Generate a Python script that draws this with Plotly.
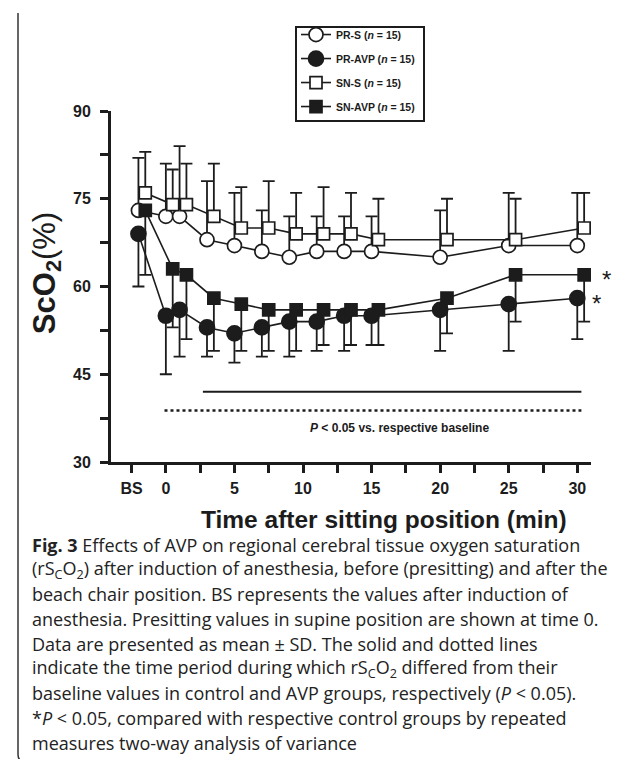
import plotly.graph_objects as go

# ---------------- data ----------------
TIME_LABELS = ["BS", "0", "1", "3", "5", "7", "9", "11", "13", "15", "20", "25", "30"]
TIMES = [-2, 0, 1, 3, 5, 7, 9, 11, 13, 15, 20, 25, 30]   # BS drawn just left of time 0

PR_S_MEAN = [73, 72, 72, 68, 67, 66, 65, 66, 66, 66, 65, 67, 67]
PR_S_SD = [9, 9, 12, 10, 9, 7, 7, 6, 6, 6, 8, 9, 9]
PR_AVP_MEAN = [69, 55, 56, 53, 52, 53, 54, 54, 55, 55, 56, 57, 58]
PR_AVP_SD = [9, 10, 8, 5, 5, 5, 6, 5, 6, 5, 7, 8, 7]
SN_S_MEAN = [76, 74, 74, 72, 70, 70, 69, 69, 69, 68, 68, 68, 70]
SN_S_SD = [7, 6, 7, 9, 7, 8, 7, 8, 7, 7, 7, 7, 6]
SN_AVP_MEAN = [73, 63, 62, 58, 57, 56, 56, 56, 56, 56, 58, 62, 62]
SN_AVP_SD = [11, 10, 11, 9, 8, 7, 7, 6, 6, 6, 6, 8, 8]

CONTROL_PERIOD = [3, 30]   # solid line
AVP_PERIOD = [0, 30]       # dotted line

X_TICKS = [-2.5, 0, 2.5, 5, 7.5, 10, 12.5, 15, 17.5, 20, 22.5, 25, 27.5, 30]
X_TICKTEXT = ["BS", "0", "", "5", "", "10", "", "15", "", "20", "", "25", "", "30"]
Y_TICKS = [30, 37.5, 45, 52.5, 60, 67.5, 75, 82.5, 90]
Y_TICKTEXT = ["30", "", "45", "", "60", "", "75", "", "90"]

CAPTION = [
    "<b>Fig. 3</b> Effects of AVP on regional cerebral tissue oxygen saturation",
    "(rS<sub>C</sub>O<sub>2</sub>) after induction of anesthesia, before (presitting) and after the",
    "beach chair position. BS represents the values after induction of",
    "anesthesia. Presitting values in supine position are shown at time 0.",
    "Data are presented as mean \u00b1 SD. The solid and dotted lines",
    "indicate the time period during which rS<sub>C</sub>O<sub>2</sub> differed from their",
    "baseline values in control and AVP groups, respectively (<i>P</i> &lt; 0.05).",
    "*<i>P</i> &lt; 0.05, compared with respective control groups by repeated",
    "measures two-way analysis of variance",
]

# ---------------- layout geometry ----------------
W, H = 635, 759
L, R, T, B = 103, 52, 99, 305
PW, PH = W - L - R, H - T - B
X_RANGE = [-4, 31]
Y_RANGE = [30, 90]
INK = "#1c1c1c"
AX_FONT = "Liberation Sans, Arial, sans-serif"


def px(x):
    return (x - L) / PW


def py(y):
    return (H - B - y) / PH


def data_to_paper_x(v):
    return (v - X_RANGE[0]) / (X_RANGE[1] - X_RANGE[0])


def data_to_paper_y(v):
    return (v - Y_RANGE[0]) / (Y_RANGE[1] - Y_RANGE[0])


SN_OFFSET = 0.5

fig = go.Figure()


def add_series(name, mean, sd, offset, symbol, size, filled, up):
    xs = [t + offset for t in TIMES]
    err = dict(type="data", symmetric=False, color=INK, thickness=1.8, width=6)
    if up:
        err.update(array=sd, arrayminus=[0] * len(sd))
    else:
        err.update(array=[0] * len(sd), arrayminus=sd)
    fig.add_trace(go.Scatter(
        x=xs, y=mean, name=name, mode="lines+markers",
        line=dict(color=INK, width=1.6),
        marker=dict(symbol=symbol, size=size, color=INK if filled else "white",
                    line=dict(color=INK, width=1.7)),
        error_y=err, legendgroup=name,
    ))


add_series("<b>PR-S (<i>n</i> = 15)</b>", PR_S_MEAN, PR_S_SD, 0, "circle", 14, False, True)
add_series("<b>PR-AVP (<i>n</i> = 15)</b>", PR_AVP_MEAN, PR_AVP_SD, 0, "circle", 15, True, False)
add_series("<b>SN-S (<i>n</i> = 15)</b>", SN_S_MEAN, SN_S_SD, SN_OFFSET, "square", 12, False, True)
add_series("<b>SN-AVP (<i>n</i> = 15)</b>", SN_AVP_MEAN, SN_AVP_SD, SN_OFFSET, "square", 12, True, False)

# significance period lines
fig.add_trace(go.Scatter(x=[CONTROL_PERIOD[0] - 0.3, CONTROL_PERIOD[1] + 0.3], y=[42, 42],
                         mode="lines", line=dict(color=INK, width=2), showlegend=False,
                         hoverinfo="skip"))
fig.add_trace(go.Scatter(x=[AVP_PERIOD[0] - 0.1, AVP_PERIOD[1] + 0.3], y=[38.8, 38.8],
                         mode="lines", line=dict(color=INK, width=2.5, dash="3px,3px"),
                         showlegend=False, hoverinfo="skip"))

ann = []
ann.append(dict(x=17, y=35.8, xref="x", yref="y", showarrow=False,
                text="<b><i>P</i> &lt; 0.05 vs. respective baseline</b>",
                font=dict(family=AX_FONT, size=12, color=INK)))
# asterisks next to last AVP points (paper coords so they may sit past the axis end)
ann.append(dict(x=data_to_paper_x(TIMES[-1] + SN_OFFSET + 1.6),
                y=data_to_paper_y(SN_AVP_MEAN[-1]), xref="paper", yref="paper",
                xanchor="center", yanchor="middle",
                showarrow=False, text="*", yshift=-5,
                font=dict(family=AX_FONT, size=24, color=INK)))
ann.append(dict(x=data_to_paper_x(TIMES[-1] + 1.4),
                y=data_to_paper_y(PR_AVP_MEAN[-1]), xref="paper", yref="paper",
                xanchor="center", yanchor="middle",
                showarrow=False, text="*", yshift=-5,
                font=dict(family=AX_FONT, size=24, color=INK)))
# axis titles
ann.append(dict(x=px(39), y=py(263), xref="paper", yref="paper", showarrow=False,
                xanchor="center", yanchor="middle",
                textangle=-90, text="<b>ScO<sub>2</sub></b>(%)",
                font=dict(family=AX_FONT, size=31, color=INK)))
ann.append(dict(x=px(376), y=py(512), xref="paper", yref="paper", showarrow=False,
                xanchor="center", yanchor="middle",
                text="<b>Time after sitting position (min)</b>",
                font=dict(family=AX_FONT, size=24.5, color=INK)))
# caption
for i, line in enumerate(CAPTION):
    ann.append(dict(x=px(22), y=py(538 + i * 25), xref="paper", yref="paper",
                    xanchor="left", yanchor="middle", showarrow=False, text=line,
                    font=dict(family="Open Sans, sans-serif", size=18, color="#222")))

frame = (f"M {px(10)},{py(0)} L {px(10)},{py(750)} "
         f"Q {px(10)},{py(757)} {px(17)},{py(757)} L {px(22)},{py(757)}")

legend_box = dict(type="rect", xref="paper", yref="paper",
                  x0=px(288), x1=px(416), y0=py(14), y1=py(109),
                  line=dict(color=INK, width=2), fillcolor="rgba(0,0,0,0)")

fig.update_layout(
    width=W, height=H,
    margin=dict(l=L, r=R, t=T, b=B, pad=0),
    paper_bgcolor="white", plot_bgcolor="white",
    annotations=ann,
    shapes=[dict(type="path", xref="paper", yref="paper", path=frame,
                 line=dict(color="#333", width=1.5)), legend_box],
    legend=dict(x=px(288), y=py(7), xanchor="left", yanchor="top",
                borderwidth=0, bgcolor="rgba(0,0,0,0)",
                font=dict(family=AX_FONT, size=10.5, color=INK),
                traceorder="grouped", tracegroupgap=5),
    xaxis=dict(range=X_RANGE, showline=True, linewidth=3, linecolor=INK,
               ticks="outside", ticklen=8, tickwidth=2.5, tickcolor=INK,
               tickvals=X_TICKS, ticktext=[f"<b>{t}</b>" if t else "" for t in X_TICKTEXT],
               tickfont=dict(family=AX_FONT, size=16, color=INK),
               ticklabelstandoff=2,
               showgrid=False, zeroline=False),
    yaxis=dict(range=Y_RANGE, showline=True, linewidth=3, linecolor=INK,
               ticks="outside", ticklen=8, tickwidth=2.5, tickcolor=INK,
               tickvals=Y_TICKS, ticktext=[f"<b>{t}</b>" if t else "" for t in Y_TICKTEXT],
               tickfont=dict(family=AX_FONT, size=16, color=INK),
               ticklabelstandoff=6,
               showgrid=False, zeroline=False),
)

fig.write_html("out.html")
